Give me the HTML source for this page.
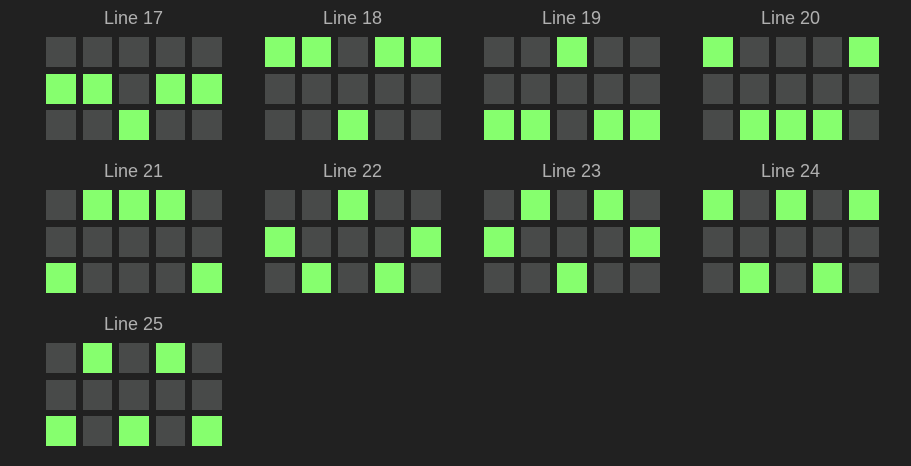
<!DOCTYPE html>
<html><head><style>
html,body{margin:0;padding:0;background:#212121;width:911px;height:466px;overflow:hidden}
.b{position:absolute;width:175px}
.t{position:absolute;left:0;width:175px;text-align:center;top:-29px;font:18px "Liberation Sans",sans-serif;color:#b0b0b0}
.c{position:absolute;width:29.5px;height:30px;background:#484a49}
.g{background:#86ff6e}
</style></head><body>
<div id="r"></div>
<script>
var P=[["00000","11011","00100"],["11011","00000","00100"],["00100","00000","11011"],["10001","00000","01110"],["01110","00000","10001"],["00100","10001","01010"],["01010","10001","00100"],["10101","00000","01010"],["01010","00000","10101"]];
var h="";
P.forEach(function(p,k){var x=46+(k%4)*219,y=37+Math.floor(k/4)*153;
h+='<div class="b" style="left:'+x+'px;top:'+y+'px"><div class="t">Line '+(17+k)+'</div>';
for(var r=0;r<3;r++)for(var i=0;i<5;i++)h+='<div class="c'+(p[r][i]=="1"?" g":"")+'" style="left:'+(i*36.5)+'px;top:'+(r*36.7)+'px"></div>';
h+='</div>';});
document.getElementById("r").innerHTML=h;
</script>
</body></html>
